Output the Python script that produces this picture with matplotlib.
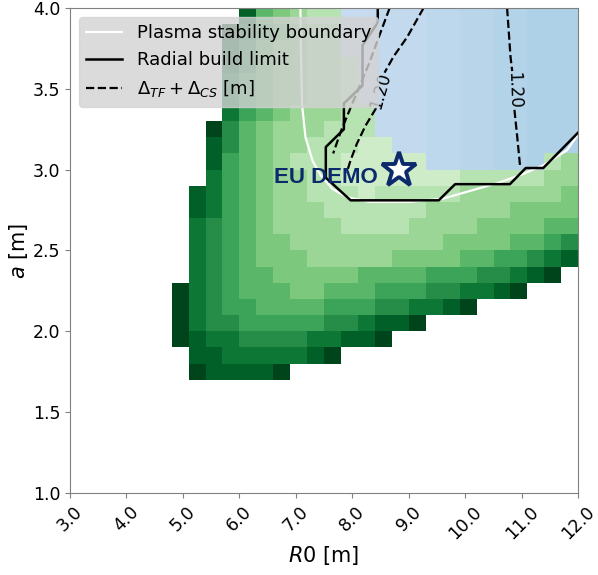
import numpy as np
import matplotlib.pyplot as plt
from matplotlib.lines import Line2D

# scan grid: 30 x 30 cells
R0_edges = np.linspace(3.0, 12.0, 31)
a_edges = np.linspace(1.0, 4.0, 31)

# cell map, top row is a = 3.9-4.0, left column is R0 = 3.0-3.3
# digits: shading level of feasible designs (0 light -> 9 dark)
# letters: designs past the radial build limit, '.' = no solution
cell_rows = [
    "..........843211aabbbccddeefff",
    ".........9754322aabbbccddeefff",
    ".........8643322aabbbccddeefff",
    ".........86433221abbbccddeefff",
    ".........75433221abbbccddeefff",
    ".........75433221abbbccddeefff",
    ".........754322211bbbccddeefff",
    "........9643222111bbbccddeefff",
    "........86432211100bbccddeefff",
    "........8543211100000ccddeef12",
    "........7543221100000001111122",
    ".......87543221110111112222223",
    ".......87543222111111222223333",
    ".......76543222211112222333344",
    ".......76543322222222233334456",
    ".......76543332222233334455678",
    ".......7654433333444455566789.",
    "......976544433444555667789...",
    "......976554444555667789......",
    "......976655555667889.........",
    "......9877666677889...........",
    ".......887777789..............",
    ".......988889.................",
    "..............................",
    "..............................",
    "..............................",
    "..............................",
    "..............................",
    "..............................",
    "..............................",
]
blue_shade = {"a": 0.25, "b": 0.265, "c": 0.28, "d": 0.295, "e": 0.31,
              "f": 0.325}

green = np.full((30, 30), np.nan)
blue = np.full((30, 30), np.nan)
for r, row in enumerate(cell_rows):
    j = 29 - r
    for i, ch in enumerate(row):
        if ch.isdigit():
            green[j, i] = int(ch)
        elif ch in blue_shade:
            blue[j, i] = blue_shade[ch]

# plasma stability boundary
stab_R0 = [7.08, 7.09, 7.11, 7.17, 7.30, 7.45, 7.65, 7.90, 8.30, 9.00, 9.60,
           10.10, 10.60, 11.00, 11.40, 11.80, 12.00]
stab_a = [4.00, 3.70, 3.40, 3.20, 3.05, 2.96, 2.88, 2.83, 2.80, 2.80, 2.82,
          2.87, 2.92, 2.97, 3.03, 3.12, 3.22]

# radial build limit
rb_R0 = [8.45, 8.45, 8.18, 8.18, 7.85, 7.85, 7.53, 7.53, 7.97, 9.53, 9.82,
         10.79, 11.07, 11.38, 12.00]
rb_a = [4.00, 3.91, 3.77, 3.52, 3.41, 3.25, 3.14, 2.95, 2.81, 2.81, 2.91,
        2.91, 3.01, 3.01, 3.23]

# Delta_TF + Delta_CS = 1.20 m contours (split where the labels sit)
d1_R0 = [8.66, 8.50, 8.30, 8.00, 7.80, 7.66]
d1_a = [4.00, 3.85, 3.66, 3.41, 3.24, 3.10]
d2a_R0 = [9.26, 8.97, 8.73, 8.57]
d2a_a = [4.00, 3.82, 3.70, 3.60]
d2b_R0 = [8.42, 8.23, 8.08, 7.97, 7.90]
d2b_a = [3.38, 3.27, 3.16, 3.06, 2.98]
d3a_R0 = [10.74, 10.77, 10.80, 10.83]
d3a_a = [4.00, 3.85, 3.70, 3.61]
d3b_R0 = [10.87, 10.92, 10.97]
d3b_a = [3.37, 3.20, 3.02]
label_pos = [(8.49, 3.49, 74), (10.86, 3.49, -88)]

demo_R0, demo_a = 8.83, 3.0

fig, ax = plt.subplots(figsize=(5.98, 5.75), dpi=100)
fig.subplots_adjust(left=0.117, right=0.967, top=0.986, bottom=0.143)

ax.pcolormesh(R0_edges, a_edges, green, cmap="Greens", vmin=-2.5, vmax=9)
ax.pcolormesh(R0_edges, a_edges, blue, cmap="Blues", vmin=0, vmax=1)

ax.plot(stab_R0, stab_a, color="white", lw=1.6)
ax.plot(rb_R0, rb_a, color="black", lw=1.8)
for xs, ys in [(d1_R0, d1_a), (d2a_R0, d2a_a), (d2b_R0, d2b_a),
               (d3a_R0, d3a_a), (d3b_R0, d3b_a)]:
    ax.plot(xs, ys, color="black", lw=1.6, ls="--")
for x, y, rot in label_pos:
    ax.text(x, y, "1.20", rotation=rot, fontsize=12, ha="center",
            va="center", rotation_mode="anchor")

ax.plot(demo_R0, demo_a, marker="*", ms=26, mfc="white", mec="#0b2a6b",
        mew=2.8, zorder=4)
ax.text(demo_R0 - 0.38, demo_a - 0.05, "EU DEMO", ha="right", va="center",
        fontsize=16, fontweight="bold", color="#0b2a6b",
        family="Liberation Sans", zorder=4)

ax.set_xlim(3, 12)
ax.set_ylim(1, 4)
ax.set_xticks(np.arange(3, 13, 1))
ax.set_xticklabels([f"{v:.1f}" for v in np.arange(3, 13, 1)], rotation=45)
ax.set_yticks(np.arange(1, 4.01, 0.5))
ax.set_yticklabels([f"{v:.1f}" for v in np.arange(1, 4.01, 0.5)])
ax.tick_params(labelsize=12.5, color="gray")
for s in ax.spines.values():
    s.set_color("gray")
ax.set_xlabel("$R0$ [m]", fontsize=15, labelpad=1)
ax.set_ylabel("$a$ [m]", fontsize=15, labelpad=2)

handles = [Line2D([], [], color="white", lw=1.6),
           Line2D([], [], color="black", lw=1.8),
           Line2D([], [], color="black", lw=1.6, ls="--")]
ax.legend(handles, ["Plasma stability boundary", "Radial build limit",
                    r"$\Delta_{TF} + \Delta_{CS}$ [m]"],
          loc="upper left", fontsize=13, facecolor="lightgray",
          edgecolor="lightgray", framealpha=0.8)

fig.savefig("out.png")
